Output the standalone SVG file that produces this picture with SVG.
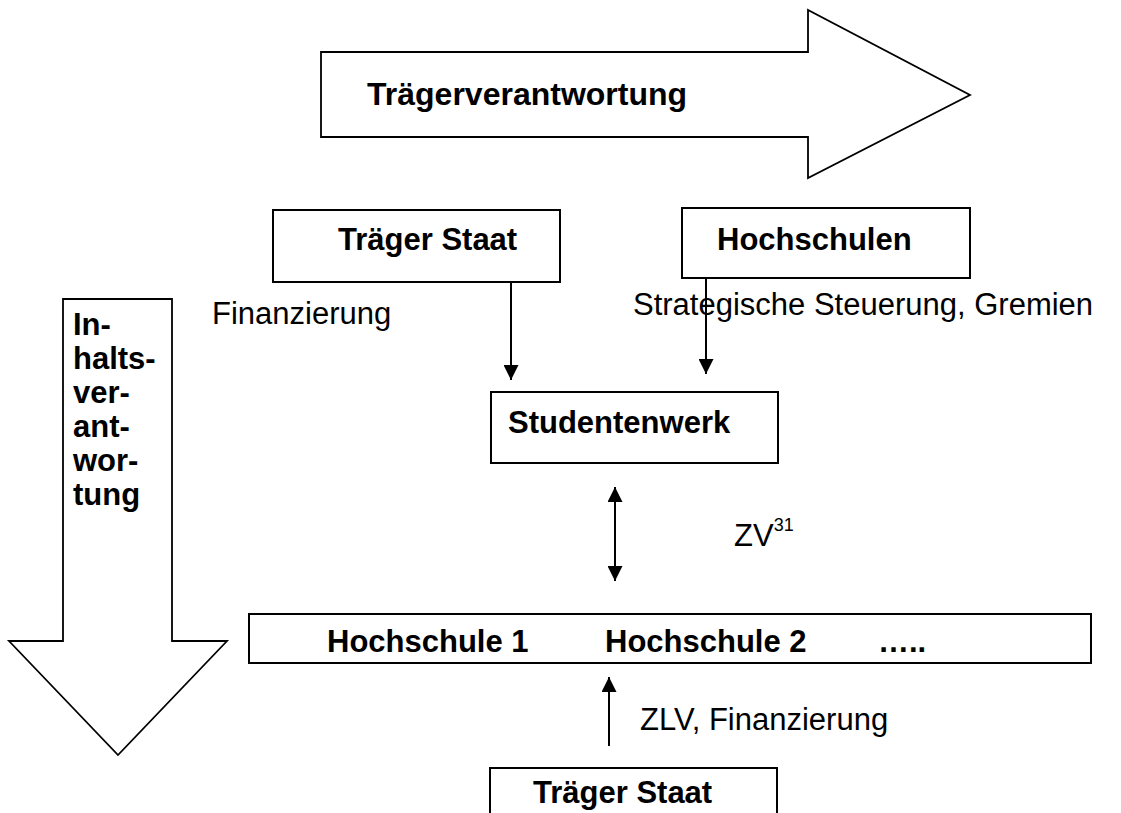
<svg xmlns="http://www.w3.org/2000/svg" width="1121" height="813" viewBox="0 0 1121 813">
<defs>
<style>
.box{fill:#fff;stroke:#000;stroke-width:2}
.big{fill:#fff;stroke:#000;stroke-width:1.8;stroke-linejoin:miter}
.b{font-family:"Liberation Sans",Arial,sans-serif;font-weight:bold;font-size:31px;fill:#000}
.r{font-family:"Liberation Sans",Arial,sans-serif;font-size:31px;fill:#000}
.con{stroke:#000;stroke-width:2;fill:none}
</style>
<marker id="ah" markerUnits="userSpaceOnUse" markerWidth="15" markerHeight="15" refX="15" refY="7.5" orient="auto-start-reverse" viewBox="0 0 15 15">
<path d="M0,0 L15,7.5 L0,15 z" fill="#000"/>
</marker>
</defs>
<rect width="1121" height="813" fill="#fff"/>

<g id="traegerverantwortung">
<polygon class="big" points="321,52 808,52 808,10 970,95 808,178 808,137 321,137"/>
<text class="b" x="367" y="105" style="font-size:32px">Trägerverantwortung</text>
</g>

<g id="inhaltsverantwortung">
<polygon class="big" points="63,299 172,299 172,641 227,641 118,755 9,641 63,641"/>
<text class="b" x="73" y="335">In-</text>
<text class="b" x="73" y="369">halts-</text>
<text class="b" x="73" y="403">ver-</text>
<text class="b" x="73" y="437">ant-</text>
<text class="b" x="73" y="471">wor-</text>
<text class="b" x="73" y="505">tung</text>
</g>

<g id="traeger-staat-oben">
<rect class="box" x="273" y="210" width="287" height="72"/>
<text class="b" x="338" y="250">Träger Staat</text>
</g>

<g id="hochschulen">
<rect class="box" x="682" y="208" width="288" height="70"/>
<text class="b" x="717" y="250">Hochschulen</text>
</g>

<g id="studentenwerk">
<rect class="box" x="491" y="392" width="287" height="71"/>
<text class="b" x="508" y="433">Studentenwerk</text>
</g>

<g id="hochschulen-leiste">
<rect class="box" x="249" y="614" width="842" height="49"/>
<text class="b" x="327" y="652">Hochschule 1</text>
<text class="b" x="605" y="652">Hochschule 2</text>
<text class="b" x="878" y="652">…..</text>
</g>

<g id="traeger-staat-unten">
<rect class="box" x="490" y="768" width="287" height="70"/>
<text class="b" x="533" y="803">Träger Staat</text>
</g>

<g id="connectors">
<line class="con" x1="511" y1="282" x2="511" y2="380" marker-end="url(#ah)"/>
<line class="con" x1="706" y1="278" x2="706" y2="374" marker-end="url(#ah)"/>
<line class="con" x1="615" y1="487" x2="615" y2="581" marker-start="url(#ah)" marker-end="url(#ah)"/>
<line class="con" x1="609" y1="746" x2="609" y2="677" marker-end="url(#ah)"/>
</g>

<g id="labels">
<text class="r" x="212" y="324">Finanzierung</text>
<text class="r" x="633" y="315">Strategische Steuerung, Gremien</text>
<text class="r" x="734" y="546">ZV<tspan dy="-15" style="font-size:18px">31</tspan></text>
<text class="r" x="640" y="730">ZLV, Finanzierung</text>
</g>
</svg>
